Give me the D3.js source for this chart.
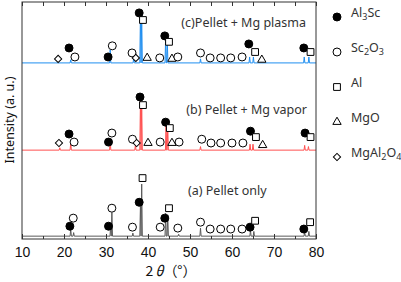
<!DOCTYPE html>
<html>
<head>
<meta charset="utf-8">
<script src="https://cdn.jsdelivr.net/npm/d3@7"></script>
<style>
  body { margin: 0; background: #fff; }
  svg { display: block; }
</style>
</head>
<body>
<figure style="margin:0"></figure>
<script>
// tick labels on the 2θ axis
const xTicks = [10, 20, 30, 40, 50, 60, 70, 80]
const xMinor = [15, 25, 35, 45, 55, 65, 75]

// vertical offsets of the stacked patterns (a.u.)
const offsets = { a: 1.2, b: 37.5, c: 74.3 }

// peaks [2θ, height a.u.]
const peaksA = [[21.6, 3], [22.3, 1.5], [31.1, 4], [31.4, 10], [36.4, 1.3], [38.2, 13], [38.5, 22],
  [44.2, 9.7], [44.7, 9], [47.3, 0.8], [52.5, 3.4], [64.4, 2.5], [65.2, 2], [77.3, 2], [78.3, 2]]
const peaksB = [[19.0, 1], [21.6, 3], [31.0, 4], [37.0, 2], [38.2, 21], [38.5, 20],
  [44.3, 11.4], [44.7, 10], [52.5, 1.5], [64.3, 2.5], [65.0, 2.5], [77.3, 2], [78.2, 1.5]]
const peaksC = [[21.6, 1.3], [31.0, 5.5], [36.6, 2], [38.2, 20.7], [38.5, 20],
  [44.2, 10.5], [44.6, 9], [52.5, 1.7], [64.2, 2.5], [65.1, 2.5], [77.2, 2.5], [78.3, 2.5]]

// phase markers [phase, 2θ, height above baseline a.u.]
const marksA = [['al3sc', 21.4, 4.2], ['sc2o3', 22.2, 7.6], ['al3sc', 30.6, 4.2], ['sc2o3', 31.4, 11.8],
  ['sc2o3', 36.3, 3.8], ['al3sc', 37.9, 14.3], ['al', 38.7, 24.5], ['sc2o3', 42.9, 3.8],
  ['al3sc', 44.0, 7.6], ['al', 45.0, 11.8], ['sc2o3', 47.1, 3.4], ['sc2o3', 52.5, 5.9],
  ['sc2o3', 54.8, 3], ['sc2o3', 57.3, 3], ['sc2o3', 59.7, 3], ['sc2o3', 62.4, 3],
  ['al3sc', 64.3, 3.8], ['al', 65.5, 6.5], ['al3sc', 77.1, 3], ['al', 78.6, 5.9]]
const marksB = [['spinel', 18.8, 3], ['al3sc', 21.2, 6.8], ['sc2o3', 22.4, 3.4], ['al3sc', 30.6, 3.4],
  ['sc2o3', 31.4, 7.2], ['sc2o3', 36.3, 4.6], ['spinel', 37.3, 3], ['al3sc', 38.1, 22.4],
  ['al', 38.8, 19], ['mgo', 40.0, 3], ['sc2o3', 42.9, 3.4], ['al3sc', 44.2, 11.8], ['al', 45.2, 9.3],
  ['mgo', 45.7, 3], ['sc2o3', 47.4, 3.4], ['sc2o3', 52.8, 4.6], ['sc2o3', 55.0, 3],
  ['sc2o3', 57.3, 3], ['sc2o3', 60.0, 3], ['sc2o3', 62.6, 3], ['al3sc', 64.4, 8],
  ['al', 65.7, 5.5], ['mgo', 67.3, 2.1], ['al3sc', 77.4, 7.2], ['al', 78.7, 5.5]]
const marksC = [['spinel', 18.6, 1.7], ['al3sc', 21.2, 6.3], ['sc2o3', 22.6, 2.5], ['al3sc', 30.5, 2.5],
  ['sc2o3', 31.5, 7.2], ['sc2o3', 36.2, 4.2], ['spinel', 37.1, 2.1], ['al3sc', 37.9, 21.1],
  ['al', 38.8, 18.1], ['mgo', 39.8, 2.1], ['sc2o3', 42.8, 2.1], ['al3sc', 44.0, 11.4], ['al', 45.0, 8.9],
  ['mgo', 45.7, 1.7], ['sc2o3', 47.1, 2.5], ['sc2o3', 52.5, 4.2], ['sc2o3', 54.8, 2.1],
  ['sc2o3', 57.3, 2.1], ['sc2o3', 59.7, 2.1], ['sc2o3', 62.4, 2.5], ['al3sc', 64.0, 8],
  ['al', 65.5, 4.6], ['mgo', 67.1, 1.3], ['al3sc', 77.1, 6.3], ['al', 78.7, 4.6]]

const legendPhases = ['al3sc', 'sc2o3', 'al', 'mgo', 'spinel']

const width = 401
const height = 282

const x = d3.scaleLinear().domain([10, 80]).range([22, 316])
const y = d3.scaleLinear().domain([0, 100]).range([239, 2])

const svg = d3.select('figure').append('svg')
  .attr('width', width)
  .attr('height', height)
  .style('font-family', '"Noto Sans", "Liberation Sans", sans-serif')

// spectrum as a polyline: baseline with narrow spikes
const profile = (peaks, off) => {
  const w = 0.15
  const pts = [[10, off]]
  peaks.forEach(([p, h]) => {
    pts.push([p - w, off], [p, off + h], [p + w, off])
  })
  pts.push([80, off])
  return pts
}

const line = d3.line().x(d => x(d[0])).y(d => y(d[1]))

const patterns = [
  { peaks: peaksA, marks: marksA, off: offsets.a, color: '#5a5a5a' },
  { peaks: peaksB, marks: marksB, off: offsets.b, color: '#ff5050' },
  { peaks: peaksC, marks: marksC, off: offsets.c, color: '#1f8ef0' }
]

const plot = svg.append('g')

plot.selectAll('path.pattern')
  .data(patterns)
  .join('path')
  .attr('class', 'pattern')
  .attr('fill', 'none')
  .attr('stroke', d => d.color)
  .attr('stroke-width', 1)
  .attr('d', d => line(profile(d.peaks, d.off)))

const symbolFor = {
  al3sc: { type: d3.symbolCircle, size: 50, fill: '#000', rot: 0 },
  sc2o3: { type: d3.symbolCircle, size: 50, fill: '#fff', rot: 0 },
  al: { type: d3.symbolSquare, size: 46, fill: '#fff', rot: 0 },
  mgo: { type: d3.symbolTriangle, size: 30, fill: '#fff', rot: 0 },
  spinel: { type: d3.symbolSquare, size: 26, fill: '#fff', rot: 45 }
}

const drawMark = (sel) => sel
  .attr('d', d => d3.symbol().type(symbolFor[d.k].type).size(symbolFor[d.k].size)())
  .attr('fill', d => symbolFor[d.k].fill)
  .attr('stroke', '#000')
  .attr('stroke-width', 1)

patterns.forEach(p => {
  plot.append('g')
    .selectAll('path')
    .data(p.marks.map(m => ({ k: m[0], t: m[1], h: m[2], off: p.off })))
    .join('path')
    .call(drawMark)
    .attr('transform', d => `translate(${x(d.t)},${y(d.off + d.h)}) rotate(${symbolFor[d.k].rot})`)
})

// pattern labels
const labels = [
  { text: '(c)Pellet + Mg plasma', x: 306, y: 27, anchor: 'end' },
  { text: '(b) Pellet + Mg vapor', x: 307, y: 114, anchor: 'end' },
  { text: '(a) Pellet only', x: 188, y: 195, anchor: 'start' }
]
svg.append('g')
  .selectAll('text')
  .data(labels)
  .join('text')
  .attr('x', d => d.x)
  .attr('y', d => d.y)
  .attr('text-anchor', d => d.anchor)
  .attr('font-size', 12.5)
  .attr('fill', '#333')
  .text(d => d.text)

// axes, ticks pointing inward
const xAxisBottom = svg.append('g').attr('transform', `translate(0,${y(0)})`)
xAxisBottom.call(d3.axisBottom(x).tickValues(xTicks).tickSize(-5).tickPadding(8))
xAxisBottom.append('g').call(d3.axisBottom(x).tickValues(xMinor).tickSize(-3).tickFormat(''))
xAxisBottom.selectAll('.domain').remove()
xAxisBottom.selectAll('text')
  .attr('font-size', 14)
  .attr('font-family', '"Liberation Sans", Arial, sans-serif')
  .attr('fill', '#111')

const xAxisTop = svg.append('g').attr('transform', `translate(0,${y(100)})`)
xAxisTop.call(d3.axisTop(x).tickValues(xTicks.concat(xMinor)).tickSize(-4).tickFormat(''))
xAxisTop.selectAll('.domain').remove()

svg.selectAll('.tick line').attr('stroke', '#333')

svg.append('rect')
  .attr('x', x(10))
  .attr('y', y(100))
  .attr('width', x(80) - x(10))
  .attr('height', y(0) - y(100))
  .attr('fill', 'none')
  .attr('stroke', '#333')
  .attr('stroke-width', 1)

// axis titles
const xl = svg.append('text')
  .attr('x', x(45) + 2)
  .attr('y', 276)
  .attr('text-anchor', 'middle')
  .attr('font-size', 14)
  .attr('font-family', '"Noto Sans CJK JP", "Noto Sans", sans-serif')
  .attr('fill', '#111')
xl.append('tspan').text('2')
xl.append('tspan').attr('font-style', 'italic').attr('dx', 2).text('θ')
xl.append('tspan').text('（°）')

svg.append('text')
  .attr('transform', 'translate(14,120) rotate(-90)')
  .attr('text-anchor', 'middle')
  .attr('font-size', 12.5)
  .attr('fill', '#111')
  .text('Intensity (a. u.)')

// legend
const legendY = d3.scalePoint().domain(legendPhases).range([17, 157])
const legendText = {
  al3sc: [['Al', 0], ['3', 1], ['Sc', 0]],
  sc2o3: [['Sc', 0], ['2', 1], ['O', 0], ['3', 1]],
  al: [['Al', 0]],
  mgo: [['MgO', 0]],
  spinel: [['MgAl', 0], ['2', 1], ['O', 0], ['4', 1]]
}
const lg = svg.append('g')
  .selectAll('g')
  .data(legendPhases)
  .join('g')
  .attr('transform', d => `translate(0,${legendY(d)})`)

lg.append('path')
  .datum(d => ({ k: d }))
  .call(drawMark)
  .attr('transform', d => `translate(337,0) rotate(${symbolFor[d.k].rot})`)

lg.append('text')
  .attr('x', 351)
  .attr('dy', '0.36em')
  .attr('font-size', 12.5)
  .attr('fill', '#333')
  .each(function (d) {
    const t = d3.select(this)
    legendText[d].forEach(([s, sub]) => {
      t.append('tspan')
        .attr('font-size', sub ? 9 : 12.5)
        .attr('dy', sub ? 3 : (t.selectAll('tspan').size() > 1 ? -3 : 0))
        .text(s)
    })
  })
</script>
</body>
</html>
